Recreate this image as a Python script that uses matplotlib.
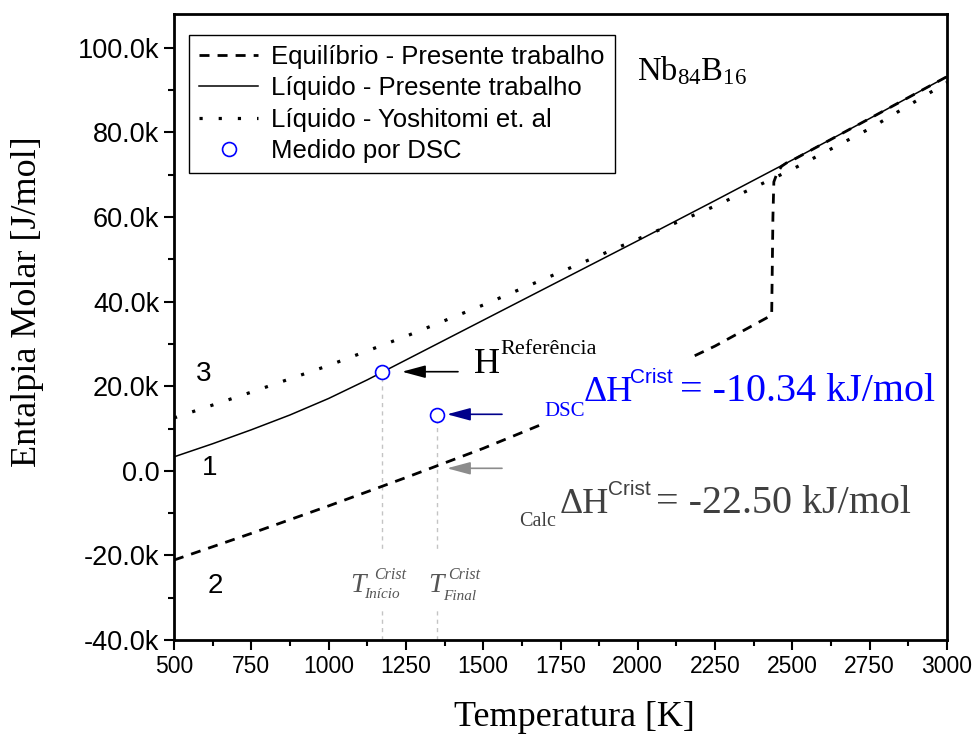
import matplotlib
matplotlib.use('Agg')
import matplotlib.pyplot as plt
from matplotlib.ticker import MultipleLocator, FuncFormatter
from matplotlib.patches import Rectangle
from matplotlib import font_manager

# entalpia (J/mol) x temperatura (K)
temp_liq = [500, 625, 750, 875, 1000, 1125, 1250, 1375, 1500, 1750, 2000, 2250, 2500, 2750, 3000]
h_liq = [3300, 6400, 9700, 13200, 17100, 21500, 26200, 30900, 35600, 45000, 54400, 63900, 73500, 83300, 93200]

temp_yosh = [500, 750, 1000, 1250, 1500, 1750, 2000, 2250, 2500, 2750, 3000]
h_yosh = [12500, 18600, 24900, 31800, 39200, 47000, 54800, 62600, 71300, 80900, 91800]

temp_eq = [500, 750, 1000, 1250, 1500, 1750, 2000, 2250, 2433, 2437, 2440, 2450, 2465, 2485, 2502, 2750, 3000]
h_eq = [-21100, -14800, -8300, -1600, 5300, 12800, 20800, 29500, 36800, 60000, 68300, 70300, 72000, 73000, 73500, 83300, 93200]

temp_dsc = [1173, 1350]
h_dsc = [23400, 13100]

W, H = 976, 738
plt.rcParams['mathtext.fontset'] = 'custom'
plt.rcParams['mathtext.rm'] = 'Liberation Serif'
plt.rcParams['mathtext.it'] = 'Liberation Serif:italic'
plt.rcParams['font.family'] = 'Liberation Sans'

fig = plt.figure(figsize=(W / 100, H / 100), dpi=100)
ax = fig.add_axes([174 / W, 1 - 640 / H, (947 - 174) / W, (640 - 14) / H])

ax.plot(temp_eq, h_eq, color='black', lw=2, dashes=(3.6, 2.9), label='Equilíbrio - Presente trabalho')
ax.plot(temp_liq, h_liq, color='black', lw=1.1, label='Líquido - Presente trabalho')
ax.plot(temp_yosh, h_yosh, color='black', lw=2.3, dashes=(1, 5), label='Líquido - Yoshitomi et. al')
ax.vlines(temp_dsc, -40000, h_dsc, colors='#c4c4c4', linestyles=(0, (3, 3)), lw=1, zorder=1)
ax.plot(temp_dsc, h_dsc, ls='none', marker='o', ms=10, mfc='white', mec='blue', mew=1.2,
        label='Medido por DSC', zorder=5)

ax.set_xlim(500, 3000)
ax.set_ylim(-40000, 108000)
ax.xaxis.set_major_locator(MultipleLocator(250))
ax.xaxis.set_minor_locator(MultipleLocator(125))
ax.yaxis.set_major_locator(MultipleLocator(20000))
ax.yaxis.set_minor_locator(MultipleLocator(10000))
ax.yaxis.set_major_formatter(FuncFormatter(lambda v, p: '0.0' if v == 0 else f'{v / 1000:.1f}k'))
ax.tick_params(which='major', direction='out', length=7, width=1.5, top=False, right=False)
ax.tick_params(which='minor', direction='out', length=4, width=1.5, top=False, right=False)
for s in ax.spines.values():
    s.set_linewidth(2)

try:
    font_manager.findfont(font_manager.FontProperties(family='Liberation Sans Narrow'), fallback_to_default=False)
    xfam, xsize = 'Liberation Sans Narrow', 19.5
except Exception:
    xfam, xsize = 'Liberation Sans', 16.5
for t in ax.get_xticklabels():
    t.set_family(xfam)
    t.set_fontsize(xsize)
for t in ax.get_yticklabels():
    t.set_fontsize(19.5)

leg = ax.legend(loc='upper left', bbox_to_anchor=(189 / W, 1 - 35 / H), bbox_transform=fig.transFigure,
                borderaxespad=0, fontsize=18.5, borderpad=0.4, handlelength=2.3, handletextpad=0.5,
                labelspacing=0.28, fancybox=False, framealpha=1, edgecolor='black')
leg.get_frame().set_linewidth(1)


def ftext(x, y, s, **kw):
    return fig.text(x / W, 1 - y / H, s, **kw)


serif = 'Liberation Serif'
ftext(28, 302, 'Entalpia Molar [J/mol]', family=serif, fontsize=26, rotation=90, ha='center', va='center')
ftext(574, 718, 'Temperatura [K]', family=serif, fontsize=26, ha='center', va='center')

ftext(637, 80, r'$\mathrm{Nb}_{84}\mathrm{B}_{16}$', fontsize=23.5, va='baseline')

for lab, x, y in [('3', 204, 374), ('1', 210, 468), ('2', 215, 586)]:
    ftext(x, y, lab, fontsize=20, ha='center', va='center')

# caixas brancas atras dos textos
fig.add_artist(Rectangle((540 / W, 1 - 425 / H), 160 / W, 67 / H, transform=fig.transFigure,
                         facecolor='white', edgecolor='none', zorder=1))
fig.add_artist(Rectangle((345 / W, 1 - 610 / H), 140 / W, 58 / H, transform=fig.transFigure,
                         facecolor='white', edgecolor='none', zorder=1))

# setas
for tip, tail, col in [((402, 371.7), (458, 371.7), 'black'),
                       ((447, 414.3), (502, 414.3), '#00008b'),
                       ((447, 468.3), (502, 468.3), '#8c8c8c')]:
    ax.annotate('', xy=(tip[0], H - tip[1]), xycoords='figure pixels',
                xytext=(tail[0], H - tail[1]), textcoords='figure pixels',
                arrowprops=dict(arrowstyle='-|>,head_length=1.3,head_width=0.35', color=col, lw=1.2,
                                mutation_scale=11, shrinkA=0, shrinkB=0))

# H referencia
ftext(474, 372.5, 'H', family=serif, fontsize=26, va='baseline')
ftext(500, 353.7, 'Referência', family=serif, fontsize=16, va='baseline')

# DSC
blue = '#0000ff'
ftext(544, 416, 'DSC', family=serif, fontsize=15, va='baseline', color=blue)
ftext(584, 401.2, 'ΔH', family=serif, fontsize=26, va='baseline', color=blue)
ftext(630, 383.2, 'Crist', fontsize=15, va='baseline', color=blue)
ftext(680, 401.2, '= -10.34 kJ/mol', family=serif, fontsize=28.8, va='baseline', color=blue)

# Calc
grey = '#404040'
ftext(519, 525.8, 'Calc', family=serif, fontsize=14.5, va='baseline', color=grey)
ftext(559.6, 512.7, 'ΔH', family=serif, fontsize=26, va='baseline', color=grey)
ftext(608, 494.6, 'Crist', fontsize=15, va='baseline', color=grey)
ftext(655.5, 512.7, '= -22.50 kJ/mol', family=serif, fontsize=28.8, va='baseline', color=grey)

# temperaturas de cristalizacao
tg = '#555555'
ftext(350, 591.7, 'T', family=serif, style='italic', fontsize=20, va='baseline', color=tg)
ftext(374, 579.3, 'Crist', family=serif, style='italic', fontsize=11.5, va='baseline', color=tg)
ftext(364, 598.5, 'Início', family=serif, style='italic', fontsize=11, va='baseline', color=tg)
ftext(428.3, 591.7, 'T', family=serif, style='italic', fontsize=20, va='baseline', color=tg)
ftext(448, 579.3, 'Crist', family=serif, style='italic', fontsize=11.5, va='baseline', color=tg)
ftext(442.7, 599.5, 'Final', family=serif, style='italic', fontsize=11, va='baseline', color=tg)

fig.savefig('out.png', dpi=100)
